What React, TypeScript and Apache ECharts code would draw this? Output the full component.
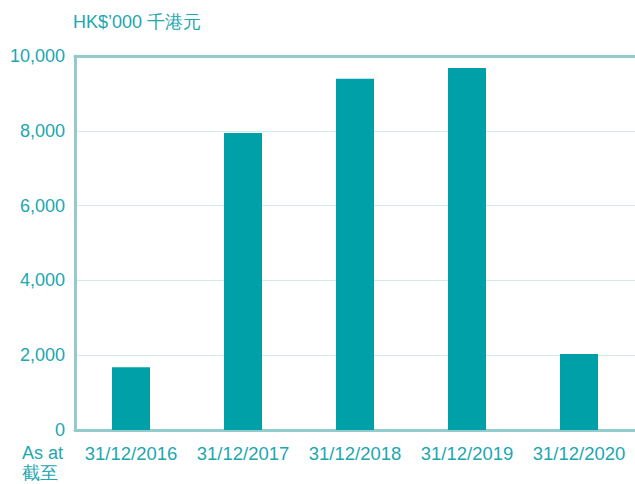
import React, { useEffect, useRef } from "react";
import * as echarts from "echarts";

const categories = ["31/12/2016", "31/12/2017", "31/12/2018", "31/12/2019", "31/12/2020"];
const values = [1680, 7940, 9390, 9680, 2030];
const yTicks = [0, 2000, 4000, 6000, 8000, 10000];
const unitTitle = "HK$\u2019000 千港元";
const asAtLabel = "As at\n截至";

const TEXT = "#22a6b0";
const AXIS = "#93cbcd";
const GRID = "#d3eaea";
const BAR = "#00a0a9";
const FONT = "'Liberation Sans', Arial, sans-serif";

export default function App() {
  const ref = useRef<HTMLDivElement>(null);
  useEffect(() => {
    if (!ref.current) return;
    const chart = echarts.init(ref.current, undefined, { renderer: "svg" });
    chart.setOption({
      animation: false,
      textStyle: { fontFamily: FONT },
      grid: { left: 75, top: 56, width: 562.5, height: 374, containLabel: false },
      graphic: [
        {
          type: "text",
          left: 73,
          top: 13,
          style: { text: unitTitle, fill: TEXT, font: `18px ${FONT}` },
        },
        {
          type: "text",
          left: 22,
          top: 443,
          style: { text: asAtLabel, fill: TEXT, font: `18px ${FONT}`, lineHeight: 20 },
        },
      ],
      xAxis: [
        {
          type: "category",
          data: categories,
          axisLine: { show: true, lineStyle: { color: AXIS, width: 3 } },
          axisTick: { show: false },
          axisLabel: { color: TEXT, fontSize: 18.5, fontFamily: FONT, margin: 14, interval: 0 },
        },
        {
          type: "category",
          position: "top",
          data: categories,
          axisLine: { show: true, lineStyle: { color: AXIS, width: 3 } },
          axisTick: { show: false },
          axisLabel: { show: false },
        },
      ],
      yAxis: {
        type: "value",
        min: yTicks[0],
        max: yTicks[yTicks.length - 1],
        interval: 2000,
        axisLine: { show: true, lineStyle: { color: AXIS, width: 3 } },
        axisTick: { show: false },
        splitLine: { show: true, lineStyle: { color: GRID, width: 1 } },
        axisLabel: {
          color: TEXT,
          fontSize: 18,
          fontFamily: FONT,
          margin: 10,
          formatter: (v: number) => v.toLocaleString("en-US"),
        },
      },
      series: [
        {
          type: "bar",
          data: values,
          barWidth: 38,
          itemStyle: { color: BAR },
        },
      ],
    });
    return () => chart.dispose();
  }, []);
  return <div ref={ref} style={{ width: 635, height: 484, position: "absolute", left: 0, top: 0 }} />;
}
